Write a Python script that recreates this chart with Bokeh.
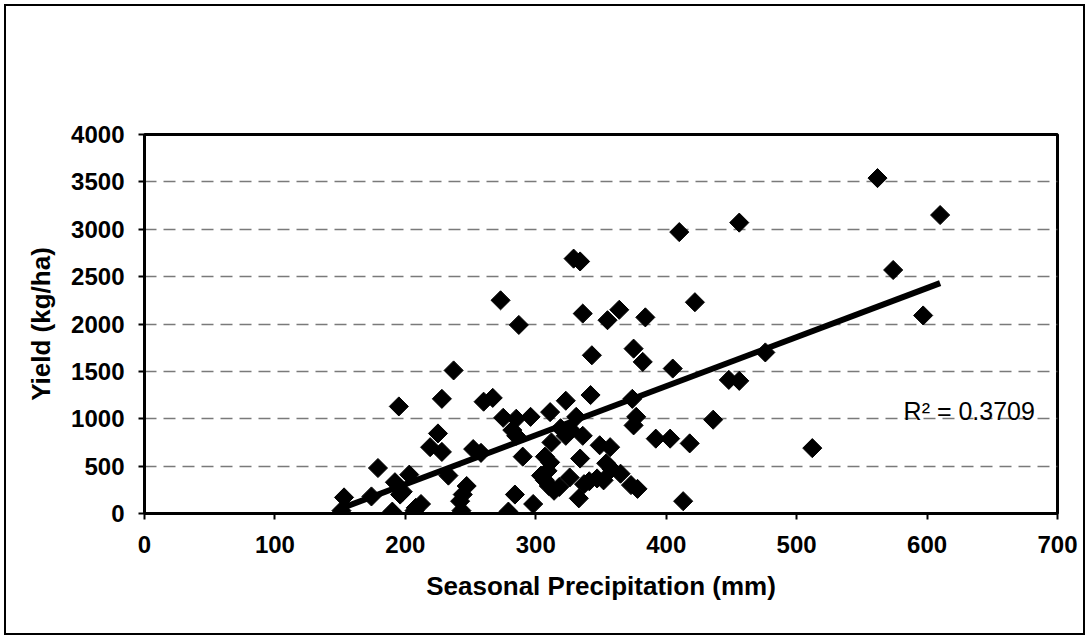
import numpy as np
from bokeh.plotting import figure
from bokeh.models import Label, Range1d, FixedTicker
from bokeh.embed import file_html
from bokeh.resources import INLINE

# Seasonal precipitation (mm) and yield (kg/ha)
precip = [151, 153, 174, 179, 190, 192, 195, 196, 198, 203,
          208, 212, 207, 219, 225, 228, 228, 233, 237, 242,
          243, 244, 247, 252, 258, 260, 267, 273, 275, 279,
          282, 284, 285, 285, 287, 290, 296, 298, 304, 307,
          307, 310, 311, 311, 312, 309, 314, 318, 319, 323,
          323, 326, 327, 329, 331, 333, 334, 334, 336, 336,
          337, 341, 342, 343, 347, 349, 352, 354, 355, 357,
          358, 364, 365, 373, 374, 375, 375, 377, 378, 382,
          384, 392, 403, 405, 410, 413, 418, 422, 436, 448,
          456, 456, 476, 512, 562, 574, 597, 610]
yield_kg = [30, 170, 180, 480, 20, 330, 1130, 200, 230, 410,
            60, 100, 30, 700, 845, 650, 1210, 400, 1510, 130,
            30, 200, 290, 680, 640, 1180, 1220, 2250, 1010, 20,
            880, 200, 1000, 820, 1990, 600, 1020, 100, 400, 600,
            350, 290, 540, 1070, 750, 450, 240, 280, 900, 820,
            1190, 380, 880, 2690, 1020, 160, 580, 2660, 820, 2110,
            310, 340, 1250, 1670, 370, 720, 350, 530, 2040, 700,
            470, 2150, 420, 300, 1210, 930, 1740, 1020, 260, 1600,
            2070, 790, 790, 1530, 2970, 130, 740, 2230, 990, 1410,
            1400, 3070, 1700, 690, 3540, 2570, 2090, 3150]

x_ticks = [0, 100, 200, 300, 400, 500, 600, 700]
y_ticks = [0, 500, 1000, 1500, 2000, 2500, 3000, 3500, 4000]
r2_text = "R\u00b2 = 0.3709"

FONT = "Liberation Sans"

p = figure(width=1081, height=631,
           x_range=Range1d(0, 700), y_range=Range1d(0, 4000),
           output_backend="svg", toolbar_location=None,
           min_border_left=138, min_border_right=30,
           min_border_top=128, min_border_bottom=124)
p.styles = {"border": "2px solid black", "margin-left": "4px", "margin-top": "4px"}
p.background_fill_color = "white"
p.border_fill_color = "white"
p.outline_line_color = "black"
p.outline_line_width = 3
p.outline_line_alpha = 1.0

p.xaxis.ticker = FixedTicker(ticks=x_ticks)
p.yaxis.ticker = FixedTicker(ticks=y_ticks)
p.xgrid.visible = False
p.ygrid.ticker = FixedTicker(ticks=y_ticks)
p.ygrid.grid_line_color = "#7a7a7a"
p.ygrid.grid_line_dash = "12 7"
p.ygrid.grid_line_width = 1.5

for ax in (p.xaxis, p.yaxis):
    ax.axis_line_width = 3
    ax.axis_line_color = "black"
    ax.major_tick_line_width = 2
    ax.major_tick_line_color = "black"
    ax.major_tick_out = 6
    ax.major_tick_in = 0
    ax.minor_tick_out = 0
    ax.minor_tick_in = 0
    ax.major_label_text_font = FONT
    ax.major_label_text_font_style = "bold"
    ax.major_label_text_font_size = "24px"
    ax.major_label_text_color = "black"
    ax.axis_label_text_font = FONT
    ax.axis_label_text_font_style = "bold"
    ax.axis_label_text_font_size = "26px"
    ax.axis_label_text_color = "black"

p.xaxis.axis_label = "Seasonal Precipitation (mm)"
p.yaxis.axis_label = "Yield (kg/ha)"
p.xaxis.major_label_standoff = 16
p.yaxis.major_label_standoff = 14
p.xaxis.axis_label_standoff = 15
p.yaxis.axis_label_standoff = 12

# linear trend line from the data
xs = np.array(precip, dtype=float)
ys = np.array(yield_kg, dtype=float)
slope, intercept = np.polyfit(xs, ys, 1)
lx = np.array([xs.min(), xs.max()])
p.line(lx, slope * lx + intercept, line_color="black", line_width=6)

p.scatter(precip, yield_kg, marker="square", angle=np.pi / 4, size=13.5,
          fill_color="black", line_color="black")

p.add_layout(Label(x=582, y=1079, text=r2_text, text_font=FONT,
                   text_font_size="25px", text_color="black",
                   text_baseline="alphabetic"))

open("out.html", "w").write(file_html(p, INLINE))
